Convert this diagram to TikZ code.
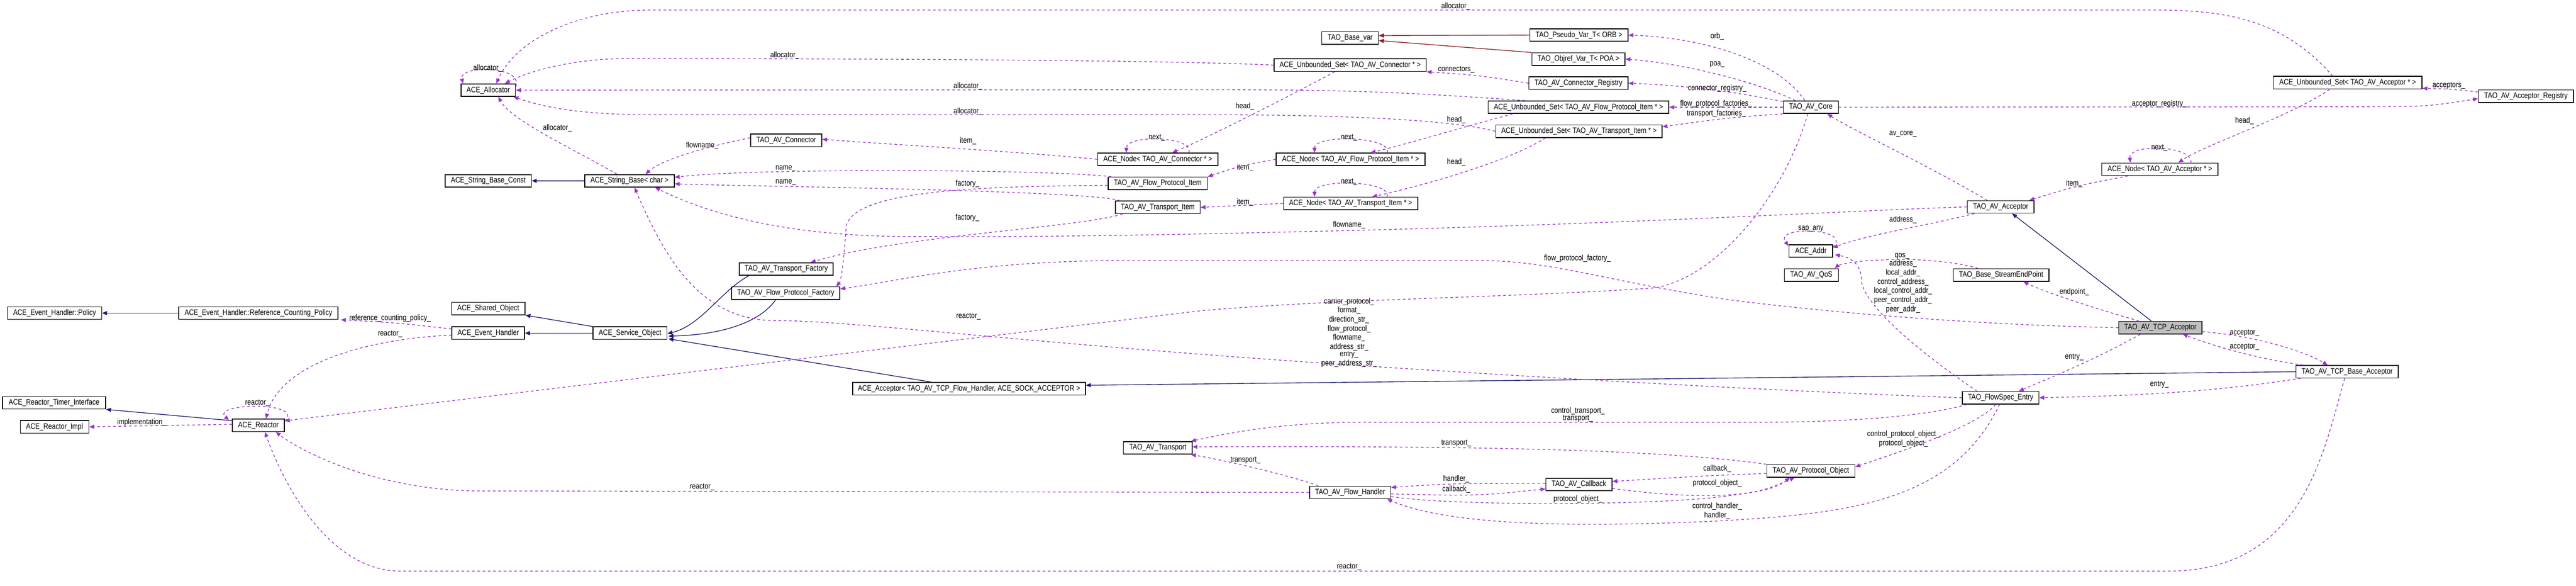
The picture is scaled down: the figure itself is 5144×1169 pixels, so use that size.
\documentclass[tikz,border=0pt]{standalone}
\usepackage{fontspec}
\newfontfamily\dfont[FakeStretch=0.84]{Liberation Sans}
\usetikzlibrary{arrows.meta,calc}
\definecolor{use}{HTML}{9A32CD}
\definecolor{inhc}{HTML}{191970}
\definecolor{tplc}{HTML}{8B1A1A}
\tikzset{
 box/.style={draw=black,line width=0.45pt,fill=white,inner sep=0pt,minimum height=0.25cm,minimum width={#1*0.01cm},font=\dfont\fontsize{4.5}{4.15}\selectfont},
 lab/.style={inner sep=0pt,align=center,font=\dfont\fontsize{4.5}{4.15}\selectfont},
 use/.style={draw=use,line width=0.4pt,dash pattern=on 1.5pt off 1.5pt,-{Triangle[length=2.8pt,width=2.3pt]}},
 inh/.style={draw=inhc,line width=0.4pt,-{Triangle[length=2.8pt,width=2.3pt]}},
 tpl/.style={draw=tplc,line width=0.4pt,-{Triangle[length=2.8pt,width=2.3pt]}},
}
\begin{document}
\begin{tikzpicture}[x=0.01cm,y=-0.01cm]
\useasboundingbox (0,0) rectangle (5144,1169);
% nodes
\node[box=109] (alloc) at (975,180) {ACE\_Allocator};
\node[box=172] (sbc) at (975,361) {ACE\_String\_Base\_Const};
\node[box=179] (sb) at (1257,361) {ACE\_String\_Base< char >};
\node[box=142] (conn) at (1570,280) {TAO\_AV\_Connector};
\node[box=240] (nconn) at (2312,318) {ACE\_Node< TAO\_AV\_Connector * >};
\node[box=198] (fpi) at (2312,366) {TAO\_AV\_Flow\_Protocol\_Item};
\node[box=169] (ti) at (2312,414) {TAO\_AV\_Transport\_Item};
\node[box=187] (tf) at (1570,537) {TAO\_AV\_Transport\_Factory};
\node[box=216] (fpf) at (1569,585) {TAO\_AV\_Flow\_Protocol\_Factory};
\node[box=304] (usconn) at (2696,130) {ACE\_Unbounded\_Set< TAO\_AV\_Connector * >};
\node[box=297] (nfpi) at (2697,318) {ACE\_Node< TAO\_AV\_Flow\_Protocol\_Item * >};
\node[box=268] (nti) at (2697,406) {ACE\_Node< TAO\_AV\_Transport\_Item * >};
\node[box=113] (basevar) at (2696,76) {TAO\_Base\_var};
\node[box=196] (orb) at (3153,70) {TAO\_Pseudo\_Var\_T< ORB >};
\node[box=186] (poa) at (3152,118) {TAO\_Objref\_Var\_T< POA >};
\node[box=198] (creg) at (3152,166) {TAO\_AV\_Connector\_Registry};
\node[box=361] (usfpi) at (3152,214) {ACE\_Unbounded\_Set< TAO\_AV\_Flow\_Protocol\_Item * >};
\node[box=332] (usti) at (3153,262) {ACE\_Unbounded\_Set< TAO\_AV\_Transport\_Item * >};
\node[box=110] (core) at (3616,214) {TAO\_AV\_Core};
\node[box=87] (addr) at (3616,501) {ACE\_Addr};
\node[box=108] (qos) at (3617,549) {TAO\_AV\_QoS};
\node[box=297] (usacc) at (4688,165) {ACE\_Unbounded\_Set< TAO\_AV\_Acceptor * >};
\node[box=190] (areg) at (5044,192) {TAO\_AV\_Acceptor\_Registry};
\node[box=232] (nacc) at (4313,338) {ACE\_Node< TAO\_AV\_Acceptor * >};
\node[box=133] (acc) at (3995,413) {TAO\_AV\_Acceptor};
\node[box=191] (sep) at (3996,549) {TAO\_Base\_StreamEndPoint};
\node[box=188] (pol) at (109,625) {ACE\_Event\_Handler::Policy};
\node[box=318] (rcp) at (516,625) {ACE\_Event\_Handler::Reference\_Counting\_Policy};
\node[box=147] (so) at (975,616) {ACE\_Shared\_Object};
\node[box=145] (eh) at (975,665) {ACE\_Event\_Handler};
\node[box=148] (svc) at (1258,665) {ACE\_Service\_Object};
\node[box=206] (rti) at (108,804) {ACE\_Reactor\_Timer\_Interface};
\node[box=137] (rimpl) at (109,852) {ACE\_Reactor\_Impl};
\node[box=104] (reactor) at (516,849) {ACE\_Reactor};
\node[box=465] (aceacc) at (1935,776) {ACE\_Acceptor< TAO\_AV\_TCP\_Flow\_Handler, ACE\_SOCK\_ACCEPTOR >};
\node[box=137] (transport) at (2312,894) {TAO\_AV\_Transport};
\node[box=162] (fh) at (2696,983) {TAO\_AV\_Flow\_Handler};
\node[box=132] (cb) at (3153,967) {TAO\_AV\_Callback};
\node[box=176] (po) at (3616,940) {TAO\_AV\_Protocol\_Object};
\node[box=166,fill={rgb,255:red,191;green,191;blue,191}] (tcp) at (4314,654) {TAO\_AV\_TCP\_Acceptor};
\node[box=204] (tcpbase) at (4687,742) {TAO\_AV\_TCP\_Base\_Acceptor};
\node[box=153] (fse) at (3995,794) {TAO\_FlowSpec\_Entry};
% inheritance
\draw[inh] (sb.west) -- (sbc.east);
\draw[inh] (rcp.west) -- (pol.east);
\draw[inh] (svc.north west) -- (so.south east);
\draw[inh] (svc.west) -- (eh.east);
\draw[inh] ($(tf.south west)+(20,0)$) .. controls (1440,580) and (1400,650) .. ($(svc.east)+(0,1)$);
\draw[inh] ($(fpf.south)+(-20,0)$) .. controls (1520,640) and (1450,668) .. ($(svc.east)+(2,6)$);
\draw[inh] ($(aceacc.north)+(-75,0)$) -- ($(svc.south east)+(2,-2)$);
\draw[inh] (tcpbase.west) -- ($(aceacc.east)+(0,-7)$);
\draw[inh] ($(tcp.north)+(-18,0)$) -- ($(acc.south)+(23,0)$);
\draw[inh] ($(reactor.north west)+(0,4)$) -- (rti.south east);
\draw[tpl] (orb.west) -- ($(basevar.east)+(0,-5)$);
\draw[tpl] (poa.north west) -- ($(basevar.east)+(0,5)$);
% usage
\draw[use] ($(alloc.north east)+(0,6)$) .. controls (1045,130) and (915,130) .. ($(alloc.north west)+(5,0)$);
\draw[use] ($(usacc.north)+(-30,0)$) .. controls (4560,40) and (4450,20) .. (4300,20) -- (1300,20) .. controls (1150,20) and (1030,80) .. ($(alloc.north)+(16,0)$);
\draw[use] (usconn.west) .. controls (2300,118) and (1500,117) .. (1250,117) .. controls (1150,117) and (1060,140) .. ($(alloc.north east)+(-22,0)$);
\draw[use] ($(usfpi.north west)+(75,0)$) .. controls (2800,184) and (2700,179) .. (2400,179) -- (alloc.east);
\draw[use] (usti.west) .. controls (2900,240) and (2700,229) .. (2400,229) -- (1300,229) .. controls (1150,229) and (1080,212) .. ($(alloc.south east)+(-5,0)$);
\draw[use] ($(sb.north)+(-25,0)$) .. controls (1150,300) and (1020,240) .. ($(alloc.south)+(20,0)$);
\draw[use] ($(usconn.south west)+(122,0)$) .. controls (2560,200) and (2400,280) .. ($(nconn.north)+(29,0)$);
\draw[use] ($(nconn.north)+(62,0)$) .. controls (2385,272) and (2250,268) .. ($(nconn.north)+(-63,0)$);
\draw[use] (nconn.west) .. controls (2000,300) and (1800,290) .. ($(conn.east)+(0,-2)$);
\draw[use] ($(conn.west)+(0,-5)$) .. controls (1400,295) and (1320,320) .. ($(sb.north)+(32,0)$);
\draw[use] ($(fpi.north west)+(7,0)$) .. controls (2100,338) and (1500,335) .. ($(sb.east)+(0,-7)$);
\draw[use] ($(ti.north west)+(10,0)$) .. controls (2180,380) and (1500,372) .. ($(sb.east)+(0,6)$);
\draw[use] ($(fpi.west)+(0,4)$) .. controls (1950,372) and (1710,380) .. (1690,450) .. controls (1685,520) and (1680,560) .. ($(fpf.north east)+(-8,0)$);
\draw[use] ($(ti.south west)+(15,0)$) .. controls (2150,455) and (1800,470) .. ($(tf.north)+(49,0)$);
\draw[use] (nfpi.west) .. controls (2480,330) .. (fpi.north east);
\draw[use] (nti.west) -- (ti.east);
\draw[use] ($(usfpi.south west)+(50,0)$) .. controls (2900,260) and (2800,290) .. ($(nfpi.north)+(40,0)$);
\draw[use] ($(nfpi.north)+(73,0)$) .. controls (2780,272) and (2625,268) .. ($(nfpi.north)+(-72,0)$);
\draw[use] ($(usti.south west)+(100,0)$) .. controls (3000,330) and (2800,380) .. ($(nti.north)+(43,0)$);
\draw[use] ($(nti.north)+(73,0)$) .. controls (2780,360) and (2625,356) .. ($(nti.north)+(-72,0)$);
\draw[use] (creg.west) .. controls (2950,150) .. (usconn.south east);
\draw[use] ($(core.north)+(-12,0)$) .. controls (3550,120) and (3400,75) .. (orb.east);
\draw[use] ($(core.north west)+(25,0)$) .. controls (3500,160) and (3350,125) .. (poa.east);
\draw[use] ($(core.north west)+(0,2)$) .. controls (3450,180) and (3350,170) .. (creg.east);
\draw[use] (core.west) -- (usfpi.east);
\draw[use] (core.south west) .. controls (3450,235) .. ($(usti.east)+(0,-9)$);
\draw[use] (core.east) -- (4756,213) .. controls (4850,212) .. ($(areg.west)+(0,5)$);
\draw[use] ($(acc.north)+(-27,0)$) .. controls (3850,330) and (3700,260) .. ($(core.south)+(33,0)$);
\draw[use] ($(areg.north west)+(0,5)$) .. controls (4900,178) .. ($(usacc.south east)+(0,-2)$);
\draw[use] ($(usacc.south)+(-36,0)$) .. controls (4580,230) and (4400,290) .. ($(nacc.north)+(37,0)$);
\draw[use] ($(nacc.north)+(62,0)$) .. controls (4380,290) and (4250,286) .. ($(nacc.north)+(-59,0)$);
\draw[use] ($(nacc.south west)+(53,0)$) .. controls (4150,370) .. ($(acc.north east)+(-10,0)$);
\draw[use] (acc.west) .. controls (3700,420) and (3300,445) .. (2700,460) .. controls (2100,475) and (1950,472) .. (1800,472) .. controls (1550,470) and (1400,420) .. ($(sb.south east)+(-39,0)$);
\draw[use] ($(acc.south west)+(15,0)$) .. controls (3850,450) and (3720,470) .. ($(addr.east)+(0,-6)$);
\draw[use] ($(addr.north east)+(0,5)$) .. controls (3700,455) and (3540,450) .. ($(addr.north west)+(0,3)$);
\draw[use] ($(fse.north west)+(30,0)$) .. controls (3800,680) and (3720,600) .. (3717,560) .. controls (3717,530) and (3700,515) .. ($(addr.south east)+(4,-6)$);
\draw[use] ($(sep.north west)+(50,0)$) .. controls (3900,520) and (3800,515) .. (3760,519) .. controls (3700,520) and (3670,530) .. ($(qos.north east)+(-8,0)$);
\draw[use] ($(tcp.north)+(-43,0)$) .. controls (4200,620) and (4100,590) .. ($(sep.south east)+(-52,0)$);
\draw[use] (tcp.west) .. controls (4000,650) and (3700,630) .. (3450,598) .. controls (3200,560) and (3100,520) .. (2950,520) -- (2250,520) .. controls (1950,520) and (1800,560) .. ($(fpf.north east)+(0,5)$);
\draw[use] ($(tcp.south)+(-40,0)$) .. controls (4180,720) and (4080,760) .. ($(fse.north east)+(-41,0)$);
\draw[use] ($(tcp.east)+(0,8)$) .. controls (4500,670) and (4600,700) .. ($(tcpbase.north)+(-39,0)$);
\draw[use] ($(tcpbase.north west)+(15,0)$) .. controls (4500,715) and (4420,690) .. ($(tcp.south east)+(-39,0)$);
\draw[use] ($(tcpbase.south west)+(10,0)$) .. controls (4400,785) and (4250,790) .. (fse.east);
\draw[use] ($(tcpbase.south)+(-5,0)$) .. controls (4640,900) and (4600,1140) .. (4330,1140) -- (800,1140) .. controls (650,1140) and (560,950) .. ($(reactor.south)+(13,0)$);
\draw[use] (fh.west) -- (962,980) .. controls (750,980) and (600,900) .. ($(reactor.south east)+(-18,0)$);
\draw[use] ($(eh.west)+(0,4)$) .. controls (750,675) and (560,720) .. ($(reactor.north)+(15,0)$);
\draw[use] ($(eh.north west)+(0,5)$) .. controls (800,645) .. ($(rcp.south east)+(5,0)$);
\draw[use] ($(reactor.north east)+(0,5)$) .. controls (610,800) and (420,805) .. ($(reactor.north west)+(-6,3)$);
\draw[use] ($(reactor.west)+(0,-2)$) -- (rimpl.east);
\draw[use] ($(core.south)+(-6,0)$) .. controls (3560,400) and (3420,560) .. (3300,575) .. controls (3000,595) and (2700,595) .. (2400,620) -- ($(reactor.east)+(0,-9)$);
\draw[use] (fse.west) .. controls (3800,790) and (3300,770) .. (2600,722) .. controls (2000,680) and (1700,640) .. (1550,640) .. controls (1400,640) and (1330,520) .. ($(sb.south)+(10,0)$);
\draw[use] ($(fse.south west)+(10,0)$) .. controls (3850,830) and (3700,843) .. (3500,843) -- (2700,843) .. controls (2550,845) and (2450,865) .. ($(transport.north east)+(-3,0)$);
\draw[use] (po.north west) .. controls (3300,895) and (2900,890) .. ($(transport.east)+(0,-2)$);
\draw[use] ($(fh.north west)+(18,0)$) .. controls (2580,950) and (2450,920) .. ($(transport.south east)+(-3,0)$);
\draw[use] ($(po.west)+(0,5)$) .. controls (3400,950) .. ($(cb.east)+(0,-6)$);
\draw[use] ($(cb.west)+(0,-2)$) .. controls (2900,965) .. ($(fh.east)+(0,-10)$);
\draw[use] ($(fh.east)+(0,3)$) .. controls (2950,990) .. ($(cb.west)+(0,9)$);
\draw[use] ($(cb.east)+(0,8)$) .. controls (3400,1000) and (3530,990) .. ($(po.south)+(-42,0)$);
\draw[use] ($(fh.south east)+(0,-5)$) .. controls (2900,1010) and (3300,1010) .. (3450,990) .. controls (3520,980) .. ($(po.south)+(-32,0)$);
\draw[use] ($(fse.south)+(-10,0)$) .. controls (3950,850) and (3800,900) .. ($(po.east)+(0,-8)$);
\draw[use] ($(fse.south)+(-2,0)$) .. controls (3900,1000) and (3700,1025) .. (3430,1040) .. controls (3000,1060) and (2850,1030) .. ($(fh.south east)+(-8,0)$);
% labels
\node[lab] (l1) at (974,136) {allocator\_};
\node[lab] (l2) at (1113,256) {allocator\_};
\node[lab] (l3) at (1567,111) {allocator\_};
\node[lab] (l4) at (1933,172) {allocator\_};
\node[lab] (l5) at (1933,223) {allocator\_};
\node[lab] (l6) at (2907,13) {allocator\_};
\node[lab] (l7) at (2486,212) {head\_};
\node[lab] (l8) at (1933,281) {item\_};
\node[lab] (l9) at (2310,275) {next\_};
\node[lab] (l10) at (1402,291) {flowname\_};
\node[lab] (l11) at (1569,336) {name\_};
\node[lab] (l12) at (1569,364) {name\_};
\node[lab] (l13) at (1932,367) {factory\_};
\node[lab] (l14) at (2486,335) {item\_};
\node[lab] (l15) at (2486,404) {item\_};
\node[lab] (l16) at (1932,435) {factory\_};
\node[lab] (l17) at (3429,72) {orb\_};
\node[lab] (l18) at (3429,129) {poa\_};
\node[lab] (l19) at (2908,139) {connectors\_};
\node[lab] (l20) at (3429,176) {connector\_registry\_};
\node[lab] (l21) at (3427,207) {flow\_protocol\_factories\_};
\node[lab] (l22) at (3427,227) {transport\_factories\_};
\node[lab] (l23) at (2908,239) {head\_};
\node[lab] (l24) at (2694,275) {next\_};
\node[lab] (l25) at (2908,323) {head\_};
\node[lab] (l26) at (2694,363) {next\_};
\node[lab] (l27) at (3800,267) {av\_core\_};
\node[lab] (l28) at (2694,449) {flowname\_};
\node[lab] (l29) at (3800,439) {address\_};
\node[lab] (l30) at (3616,457) {sap\_any};
\node[lab] (l31) at (3798,511) {qos\_};
\node[lab] (l32) at (3150,516) {flow\_protocol\_factory\_};
\node[lab] (l33) at (3800,572) {address\_\\local\_addr\_\\control\_address\_\\local\_control\_addr\_\\peer\_control\_addr\_\\peer\_addr\_};
\node[lab] (l34) at (4890,171) {acceptors\_};
\node[lab] (l35) at (4312,207) {acceptor\_registry\_};
\node[lab] (l36) at (4482,241) {head\_};
\node[lab] (l37) at (4312,295) {next\_};
\node[lab] (l38) at (4142,367) {item\_};
\node[lab] (l39) at (4142,583) {endpoint\_};
\node[lab] (l40) at (779,635) {reference\_counting\_policy\_};
\node[lab] (l41) at (779,667) {reactor\_};
\node[lab] (l42) at (514,805) {reactor\_};
\node[lab] (l43) at (283,843) {implementation\_};
\node[lab] (l44) at (1934,632) {reactor\_};
\node[lab] (l45) at (2487,919) {transport\_};
\node[lab] (l46) at (1402,972) {reactor\_};
\node[lab] (l47) at (2694,664) {carrier\_protocol\_\\format\_\\direction\_str\_\\flow\_protocol\_\\flowname\_\\address\_str\_\\entry\_\\peer\_address\_str\_};
\node[lab] (l48) at (3151,828) {control\_transport\_\\transport\_};
\node[lab] (l49) at (3801,876) {control\_protocol\_object\_\\protocol\_object\_};
\node[lab] (l50) at (2908,885) {transport\_};
\node[lab] (l51) at (3429,936) {callback\_};
\node[lab] (l52) at (2908,956) {handler\_};
\node[lab] (l53) at (2908,977) {callback\_};
\node[lab] (l54) at (3429,964) {protocol\_object\_};
\node[lab] (l55) at (3151,996) {protocol\_object\_};
\node[lab] (l56) at (3429,1020) {control\_handler\_\\handler\_};
\node[lab] (l57) at (2694,1132) {reactor\_};
\node[lab] (l58) at (4482,665) {acceptor\_};
\node[lab] (l59) at (4482,692) {acceptor\_};
\node[lab] (l60) at (4142,713) {entry\_};
\node[lab] (l61) at (4312,768) {entry\_};
\end{tikzpicture}
\end{document}
